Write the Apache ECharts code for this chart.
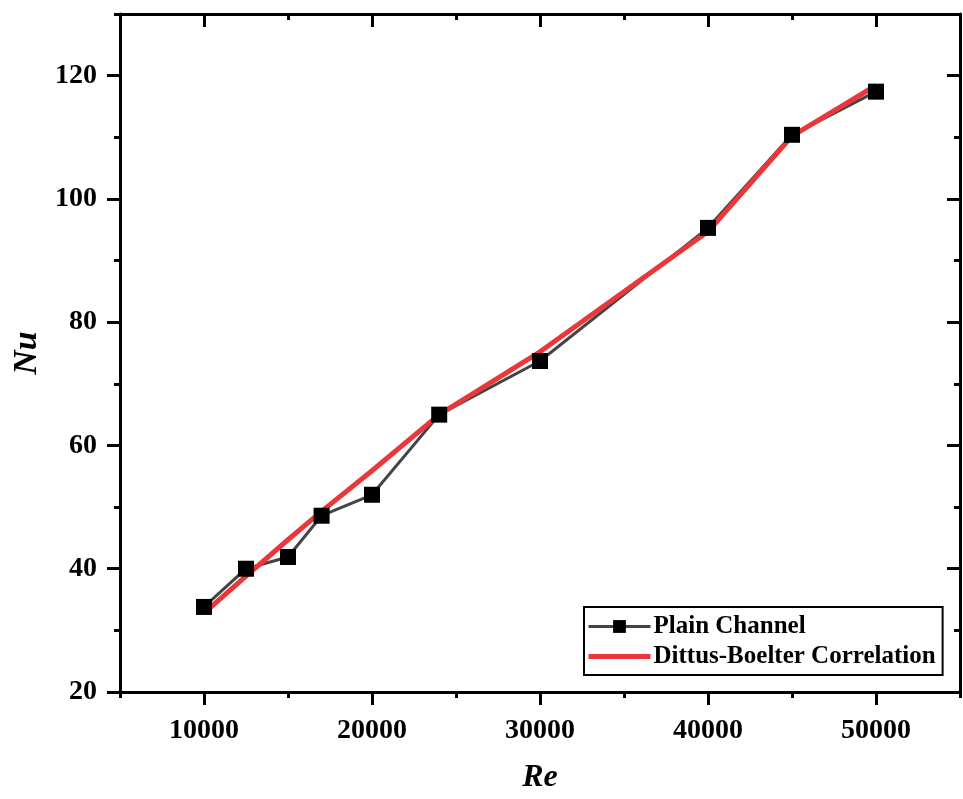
<!DOCTYPE html>
<html>
<head>
<meta charset="utf-8">
<script src="https://cdn.jsdelivr.net/npm/echarts@6/dist/echarts.min.js"></script>
<style>html,body{margin:0;padding:0;background:#fff}#c{width:963px;height:799px}</style>
</head>
<body>
<div id="c"></div>
<script>
const reValues = [10000, 12500, 15000, 17000, 20000, 24000, 30000, 40000, 45000, 50000];
const plainChannel = [33.8, 40.0, 41.9, 48.6, 52.0, 65.0, 73.7, 95.3, 110.4, 117.4];
const dittusBoelter = [32.8, 38.8, 44.7, 49.3, 55.9, 65.0, 75.2, 94.7, 110.2, 118.4];
const xMajorTicks = [10000, 20000, 30000, 40000, 50000];
const xMinorTicks = [5000, 15000, 25000, 35000, 45000, 55000];
const yMajorTicks = [20, 40, 60, 80, 100, 120];
const yMinorTicks = [30, 50, 70, 90, 110, 130];

const FONT = '"Liberation Serif", "Times New Roman", serif';
const chart = echarts.init(document.getElementById('c'), null, {renderer: 'canvas'});

function xAxis(pos, ticks, len, inside, showLine, labels, name) {
  return {
    type: 'value', position: pos, min: 5000, max: 55000,
    axisLine: {show: showLine, onZero: false, lineStyle: {color: '#000', width: 3}},
    axisTick: {show: true, inside: inside, length: len, customValues: ticks, lineStyle: {color: '#000', width: 3}},
    axisLabel: labels ? {show: true, customValues: ticks, formatter: v => String(v), color: '#000', fontFamily: FONT, fontWeight: 'bold', fontSize: 28, margin: 25} : {show: false},
    splitLine: {show: false},
    name: name || '', nameLocation: 'middle', nameGap: 70,
    nameTextStyle: {color: '#000', fontFamily: FONT, fontWeight: 'bold', fontStyle: 'italic', fontSize: 32}
  };
}
function yAxis(pos, ticks, len, inside, showLine, labels, name) {
  return {
    type: 'value', position: pos, min: 20, max: 130,
    axisLine: {show: showLine, onZero: false, lineStyle: {color: '#000', width: 3}},
    axisTick: {show: true, inside: inside, length: len, customValues: ticks, lineStyle: {color: '#000', width: 3}},
    axisLabel: labels ? {show: true, customValues: ticks, formatter: v => String(v), color: '#000', fontFamily: FONT, fontWeight: 'bold', fontSize: 28, margin: 23} : {show: false},
    splitLine: {show: false},
    name: name || '', nameLocation: 'middle', nameGap: 73,
    nameTextStyle: {color: '#000', fontFamily: FONT, fontWeight: 'bold', fontStyle: 'italic', fontSize: 34}
  };
}

chart.setOption({
  animation: false,
  backgroundColor: '#fff',
  grid: {left: 120, right: 3, top: 14, bottom: 106, containLabel: false},
  xAxis: [
    xAxis('bottom', xMajorTicks, 13, false, true, true, 'Re'),
    xAxis('bottom', xMinorTicks, 6, false, false, false),
    xAxis('top', xMajorTicks, 13, true, true, false),
    xAxis('top', xMinorTicks, 6, true, false, false)
  ],
  yAxis: [
    yAxis('left', yMajorTicks, 13, false, true, true, 'Nu'),
    yAxis('left', yMinorTicks, 6, false, false, false),
    yAxis('right', yMajorTicks, 13, true, true, false),
    yAxis('right', yMinorTicks, 6, true, false, false)
  ],
  legend: {
    left: 584, top: 607, orient: 'vertical',
    borderColor: '#000', borderWidth: 2, borderRadius: 0,
    padding: [7, 7, 6, 2], itemGap: 5, itemWidth: 62, itemHeight: 16,
    lineStyle: {width: 3},
    textStyle: {color: '#000', fontFamily: FONT, fontWeight: 'bold', fontSize: 25, padding: [0, 0, 0, -2]},
    data: [
      {name: 'Plain Channel', lineStyle: {width: 3, color: '#444'}},
      {name: 'Dittus-Boelter Correlation', lineStyle: {width: 5, color: '#e8383b'}, itemStyle: {opacity: 0}}
    ]
  },
  series: [
    {
      name: 'Plain Channel', type: 'line', xAxisIndex: 0, yAxisIndex: 0,
      data: reValues.map((r, i) => [r, plainChannel[i]]),
      symbol: 'rect', symbolSize: 16,
      lineStyle: {color: '#444', width: 3},
      itemStyle: {color: '#000'}
    },
    {
      name: 'Dittus-Boelter Correlation', type: 'line', xAxisIndex: 0, yAxisIndex: 0,
      data: reValues.map((r, i) => [r, dittusBoelter[i]]),
      showSymbol: false, symbol: 'none',
      lineStyle: {color: '#e8383b', width: 5},
      itemStyle: {color: '#e8383b'}
    }
  ]
});
</script>
</body>
</html>
